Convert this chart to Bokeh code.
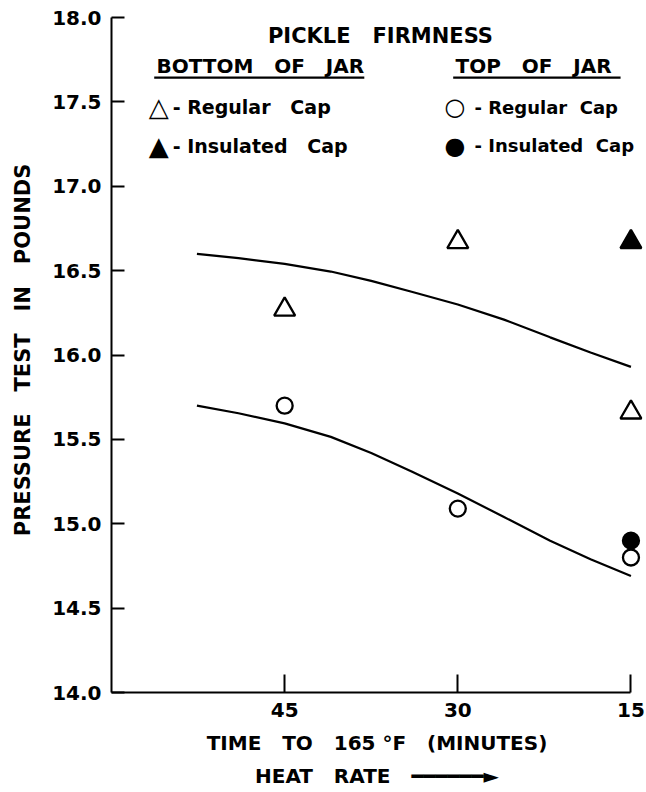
from bokeh.plotting import figure
from bokeh.models import Range1d, FixedTicker, Label, Arrow, Title, PrintfTickFormatter
from bokeh.embed import file_html
from bokeh.resources import INLINE

# ---- data ----
time_minutes = [45, 30, 15]
bottom_regular = [16.27, 16.67, 15.66]        # open triangles
bottom_insulated_time = [15]
bottom_insulated = [16.67]                    # filled triangle
top_regular = [15.7, 15.09, 14.8]             # open circles
top_insulated_time = [15]
top_insulated = [14.9]                        # filled circle

curve_time = [52.6, 49, 45, 41, 37.5, 34, 30, 26, 22, 18.5, 15]
upper_curve = [16.60, 16.575, 16.54, 16.495, 16.44, 16.375, 16.30, 16.21, 16.105, 16.015, 15.93]
lower_curve = [15.70, 15.655, 15.595, 15.515, 15.42, 15.31, 15.18, 15.04, 14.90, 14.79, 14.69]

y_ticks = [14.0, 14.5, 15.0, 15.5, 16.0, 16.5, 17.0, 17.5, 18.0]
x_ticks = [45, 30, 15]

FONT = "DejaVu Sans"
NB = "\u00a0"

p = figure(width=646, height=792, output_backend="svg", toolbar_location=None,
           x_range=Range1d(60, 14), y_range=Range1d(14, 18.06),
           min_border_left=111, min_border_right=4, min_border_top=7, min_border_bottom=100)
p.outline_line_color = None
p.grid.visible = False
p.background_fill_color = "white"
p.border_fill_color = "white"

# axes
xa = p.xaxis[0]
xa.ticker = FixedTicker(ticks=x_ticks)
xa.bounds = (15, 60)
xa.major_tick_in = 18
xa.major_tick_out = 0
xa.minor_tick_line_color = None
xa.axis_line_width = 2
xa.major_tick_line_width = 2
xa.major_label_text_font = FONT
xa.major_label_text_font_style = "bold"
xa.major_label_text_font_size = "20px"
xa.major_label_text_color = "black"
xa.major_label_standoff = 10
xa.axis_label = "TIME" + NB*3 + "TO" + NB*3 + "165" + NB + "\u00b0F" + NB*3 + "(MINUTES)"
xa.axis_label_text_font = FONT
xa.axis_label_text_font_style = "bold"
xa.axis_label_text_font_size = "20px"
xa.axis_label_text_color = "black"
xa.axis_label_standoff = 11
xa.axis_line_color = "black"
xa.major_tick_line_color = "black"

ya = p.yaxis[0]
ya.ticker = FixedTicker(ticks=y_ticks)
ya.bounds = (14, 18)
ya.formatter = PrintfTickFormatter(format="%.1f")
ya.major_tick_in = 13
ya.major_tick_out = 0
ya.minor_tick_line_color = None
ya.axis_line_width = 2
ya.major_tick_line_width = 2
ya.major_label_text_font = FONT
ya.major_label_text_font_style = "bold"
ya.major_label_text_font_size = "20px"
ya.major_label_text_color = "black"
ya.major_label_standoff = 10
ya.axis_label = "PRESSURE" + NB*3 + "TEST" + NB*3 + "IN" + NB*3 + "POUNDS"
ya.axis_label_text_font = FONT
ya.axis_label_text_font_style = "bold"
ya.axis_label_text_font_size = "21px"
ya.axis_label_text_color = "black"
ya.axis_label_standoff = 14
ya.axis_line_color = "black"
ya.major_tick_line_color = "black"

p.add_layout(Title(text="HEAT" + NB*3 + "RATE" + NB*3 + "\u2501"*6 + "\u25ba", align="center",
                   text_font=FONT, text_font_size="20px", text_font_style="bold",
                   text_color="black", standoff=9), "below")

# fitted curves
p.line(curve_time, upper_curve, line_color="black", line_width=2.2)
p.line(curve_time, lower_curve, line_color="black", line_width=2.2)

# points
p.scatter(time_minutes, bottom_regular, marker="triangle", size=21,
          fill_color="white", line_color="black", line_width=2.3)
p.scatter(bottom_insulated_time, bottom_insulated, marker="triangle", size=21,
          fill_color="black", line_color="black", line_width=2.3)
p.scatter(time_minutes, top_regular, marker="circle", size=16,
          fill_color="white", line_color="black", line_width=2.3)
p.scatter(top_insulated_time, top_insulated, marker="circle", size=16,
          fill_color="black", line_color="black", line_width=2.3)

# header / key (text annotations)
def lab(x, y, text, size="19px", align="left", style="bold"):
    p.add_layout(Label(x=x, y=y, text=text, text_font=FONT, text_font_size=size,
                       text_font_style=style, text_align=align, text_baseline="middle",
                       text_color="black"))

lab(36.7, 17.893, "PICKLE" + NB*3 + "FIRMNESS", size="21px", align="center")
lab(56.1, 17.715, "BOTTOM" + NB*3 + "OF" + NB*3 + "JAR", size="20px")
lab(30.2, 17.715, "TOP" + NB*3 + "OF" + NB*3 + "JAR", size="20px")
p.add_layout(Arrow(x_start=56.3, y_start=17.644, x_end=38.1, y_end=17.644, end=None,
                   line_width=2.2, line_color="black"))
p.add_layout(Arrow(x_start=30.4, y_start=17.644, x_end=15.9, y_end=17.644, end=None,
                   line_width=2.2, line_color="black"))

lab(55.9, 17.47, "\u25b3", size="26px", align="center", style="normal")
lab(54.7, 17.47, "-" + NB + "Regular" + NB*3 + "Cap")
lab(55.9, 17.24, "\u25b2", size="26px", align="center", style="normal")
lab(54.7, 17.24, "-" + NB + "Insulated" + NB*3 + "Cap")
lab(30.25, 17.47, "\u25cb", size="24px", align="center", style="normal")
lab(29.1, 17.47, NB + "-" + NB + "Regular" + NB*2 + "Cap", size="18px")
lab(30.25, 17.24, "\u25cf", size="24px", align="center", style="normal")
lab(29.1, 17.24, NB + "-" + NB + "Insulated" + NB*2 + "Cap", size="18px")

open("out.html", "w").write(file_html(p, INLINE))
